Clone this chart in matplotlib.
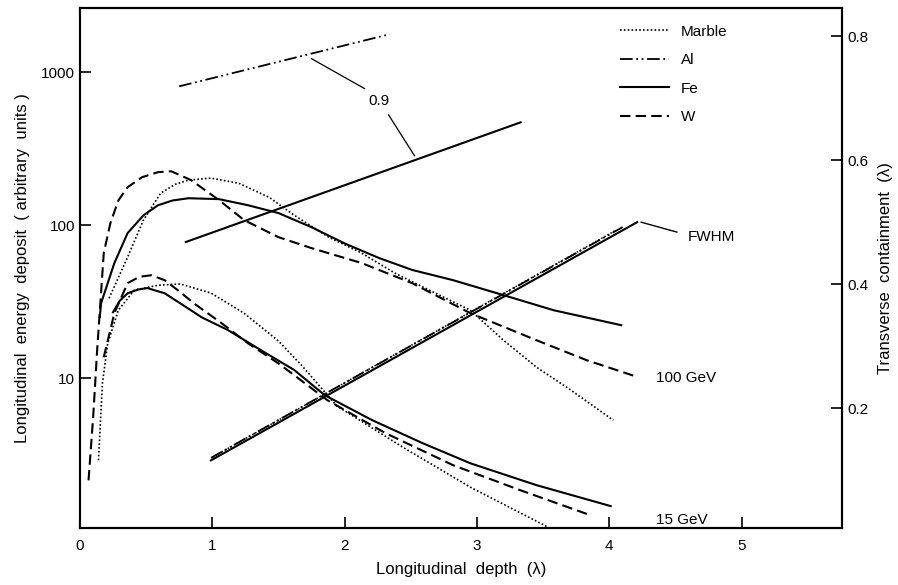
import numpy as np
import matplotlib
matplotlib.use('Agg')
import matplotlib.pyplot as plt
from matplotlib.lines import Line2D

plt.rcParams['font.family'] = ['Liberation Sans', 'DejaVu Sans']

# longitudinal profiles, 100 GeV
fe100_x = [0.15, 0.16, 0.26, 0.36, 0.48, 0.59, 0.70, 0.82, 1.05, 1.27, 1.50,
           1.75, 2.00, 2.26, 2.51, 2.82, 3.20, 3.58, 4.09]
fe100_y = [25.1, 30.9, 56.5, 88.7, 116, 135, 145, 150, 148, 135, 120,
           97, 76, 61, 51, 43.7, 34.9, 27.8, 22.2]
w100_x = [0.065, 0.10, 0.13, 0.156, 0.18, 0.23, 0.29, 0.36, 0.47, 0.59, 0.69,
          0.84, 1.05, 1.24, 1.50, 1.75, 2.13, 2.51, 2.95, 3.45, 3.83, 4.21]
w100_y = [2.15, 5.56, 15.2, 32.4, 65.6, 103, 145, 177, 206, 222, 225,
          197, 146, 108, 83.5, 70.8, 56.5, 41.8, 26.6, 17.7, 13.1, 10.2]
marble100_x = [0.22, 0.36, 0.48, 0.61, 0.72, 0.82, 0.99, 1.20, 1.43, 1.62,
               1.88, 2.13, 2.38, 2.64, 2.95, 3.20, 3.45, 3.71, 4.03]
marble100_y = [33.3, 61.8, 108, 162, 185, 197, 203, 188, 152, 116,
               83.5, 65.6, 48.6, 37.6, 27.8, 17.7, 11.8, 8.35, 5.31]

# longitudinal profiles, 15 GeV
fe15_x = [0.25, 0.30, 0.36, 0.44, 0.51, 0.64, 0.78, 0.92, 1.12, 1.37, 1.62,
          1.85, 2.21, 2.59, 2.95, 3.45, 4.01]
fe15_y = [27.0, 32.0, 35.9, 38.0, 38.8, 35.9, 30.0, 25.0, 20.6, 15.2, 11.3,
          7.74, 5.31, 3.76, 2.78, 2.00, 1.46]
w15_x = [0.18, 0.26, 0.36, 0.45, 0.54, 0.64, 0.75, 0.86, 1.07, 1.27, 1.50,
         1.87, 2.31, 2.82, 3.33, 3.86]
w15_y = [13.7, 26.6, 41.8, 46.0, 47.1, 43.7, 37.0, 30.9, 22.9, 16.9, 12.5,
         7.18, 4.37, 2.70, 1.85, 1.27]
marble15_x = [0.14, 0.17, 0.21, 0.29, 0.41, 0.59, 0.76, 0.99, 1.24, 1.50,
              1.68, 1.94, 2.44, 2.95, 3.54]
marble15_y = [2.91, 9.27, 16.9, 27.8, 37.6, 40.5, 41.3, 36.0, 26.6, 17.5,
              12.0, 6.6, 3.54, 1.94, 1.06]

# transverse containment (right axis)
fwhm_fe_x = [0.99, 4.21]
fwhm_fe_y = [0.116, 0.500]
fwhm_al_x = [0.99, 4.10]
fwhm_al_y = [0.120, 0.492]
fwhm_marble_x = [1.00, 4.05]
fwhm_marble_y = [0.121, 0.487]
c90_al_x = [0.75, 2.34]
c90_al_y = [0.719, 0.803]
c90_fe_x = [0.80, 3.33]
c90_fe_y = [0.468, 0.661]

marble_ls = (0, (1, 1.3))
al_ls = (0, (7, 2, 1, 2, 1, 2))
w_ls = (0, (5, 2.5))

fig = plt.figure(figsize=(8.98, 5.85), dpi=100)
ax = fig.add_axes([0.089, 0.097, 0.849, 0.889])
ax.set_yscale('log')
ax.set_xlim(0, 5.76)
ax.set_ylim(1.046, 2618)

ax.plot(fe100_x, fe100_y, 'k-', lw=1.5)
ax.plot(w100_x, w100_y, color='k', ls=w_ls, lw=1.5)
ax.plot(marble100_x, marble100_y, color='k', ls=marble_ls, lw=1.2)
ax.plot(fe15_x, fe15_y, 'k-', lw=1.5)
ax.plot(w15_x, w15_y, color='k', ls=w_ls, lw=1.5)
ax.plot(marble15_x, marble15_y, color='k', ls=marble_ls, lw=1.2)

ax.text(4.35, 10.0, '100 GeV', fontsize=11, va='center', ha='left')
ax.text(4.35, 1.19, '15 GeV', fontsize=11, va='center', ha='left')

ax.set_xticks([0, 1, 2, 3, 4, 5])
ax.set_xticklabels(['0', '1', '2', '3', '4', '5'])
ax.set_yticks([10, 100, 1000])
ax.set_yticklabels(['10', '100', '1000'])
ax.minorticks_off()
ax.tick_params(direction='in', length=8, width=1.2, labelsize=11)
ax.tick_params(axis='x', pad=8)
ax.set_xlabel('Longitudinal  depth  (\u03bb)', fontsize=12, labelpad=6)
ax.set_ylabel('Longitudinal  energy  deposit  ( arbitrary  units )',
              fontsize=12, labelpad=8)

ax2 = ax.twinx()
ax2.set_ylim(0.0065, 0.845)
ax2.plot(fwhm_fe_x, fwhm_fe_y, 'k-', lw=1.5)
ax2.plot(fwhm_al_x, fwhm_al_y, color='k', ls=al_ls, lw=1.3)
ax2.plot(fwhm_marble_x, fwhm_marble_y, color='k', ls=marble_ls, lw=1.1)
ax2.plot(c90_al_x, c90_al_y, color='k', ls=al_ls, lw=1.3)
ax2.plot(c90_fe_x, c90_fe_y, 'k-', lw=1.5)

ax2.plot([4.24, 4.51], [0.500, 0.484], 'k-', lw=1)
ax2.text(4.59, 0.476, 'FWHM', fontsize=11, va='center', ha='left')
ax2.text(2.26, 0.695, '0.9', fontsize=11, va='center', ha='center')
ax2.annotate('', xy=(1.73, 0.766), xytext=(2.17, 0.713),
             arrowprops=dict(arrowstyle='-', lw=0.9, color='k'))
ax2.annotate('', xy=(2.54, 0.603), xytext=(2.32, 0.677),
             arrowprops=dict(arrowstyle='-', lw=0.9, color='k'))

ax2.set_yticks([0.2, 0.4, 0.6, 0.8])
ax2.set_yticklabels(['0.2', '0.4', '0.6', '0.8'])
ax2.tick_params(direction='in', length=8, width=1.2, labelsize=11)
ax2.set_ylabel('Transverse  containment  (\u03bb)', fontsize=12, labelpad=7)

for a in (ax, ax2):
    for s in a.spines.values():
        s.set_linewidth(1.5)

handles = [Line2D([], [], color='k', ls=marble_ls, lw=1.2),
           Line2D([], [], color='k', ls=al_ls, lw=1.3),
           Line2D([], [], color='k', ls='-', lw=1.5),
           Line2D([], [], color='k', ls=w_ls, lw=1.5)]
ax2.legend(handles, ['Marble', 'Al', 'Fe', 'W'], loc='upper left',
           bbox_to_anchor=(0.69, 0.995), frameon=False, fontsize=11,
           handlelength=3.2, labelspacing=0.95, handletextpad=0.8)

fig.savefig('out.png', dpi=100)
